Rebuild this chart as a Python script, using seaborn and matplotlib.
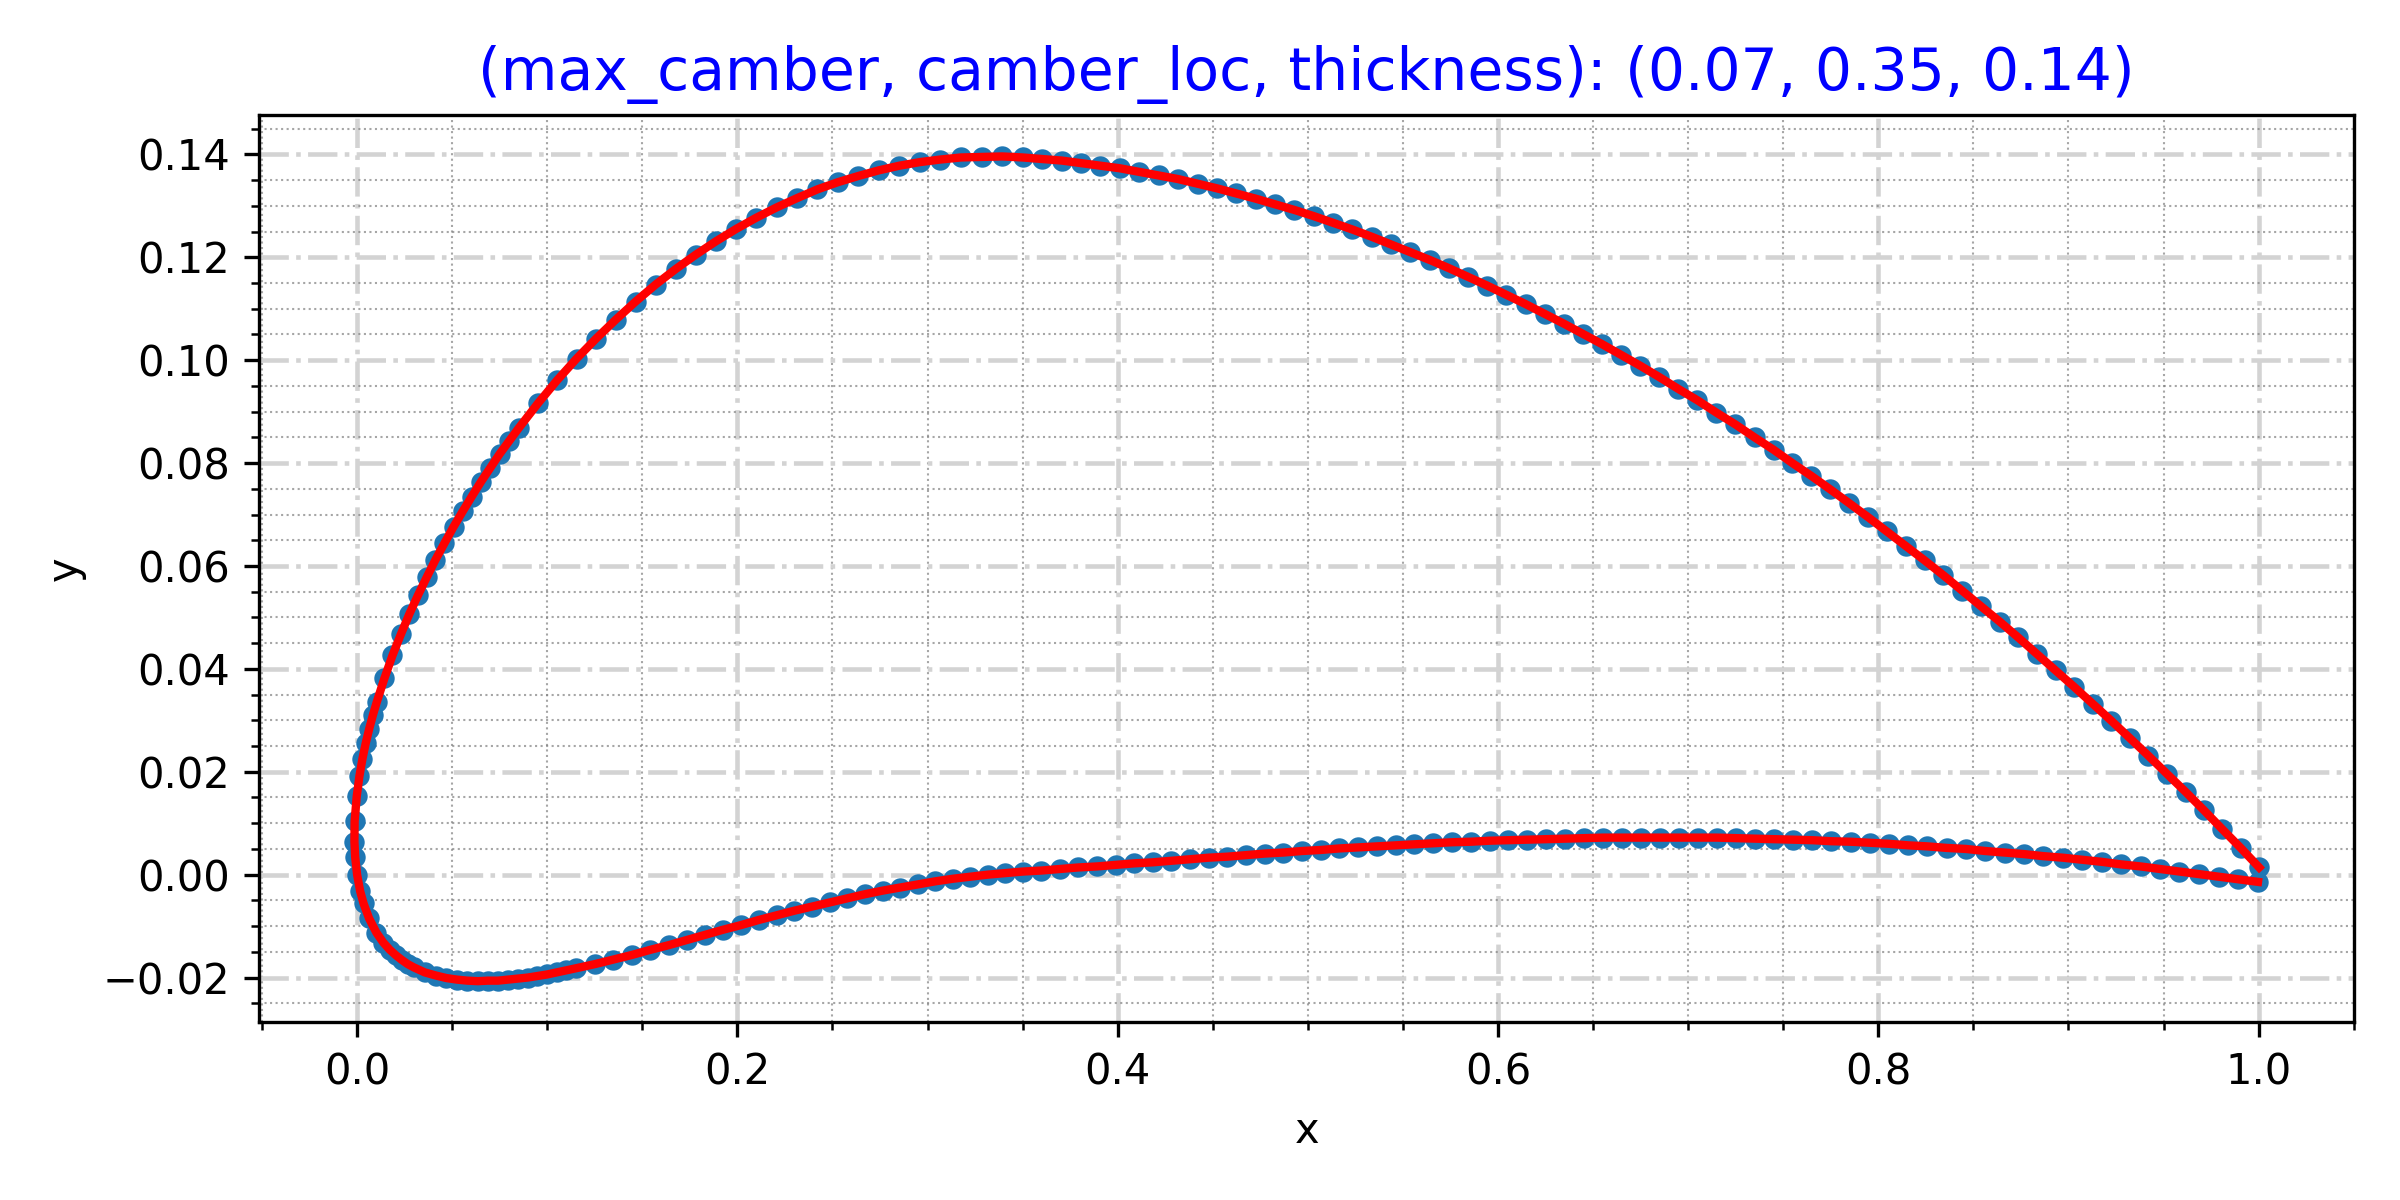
import numpy as np
import pandas as pd
import matplotlib
matplotlib.use("Agg")
import matplotlib.pyplot as plt
import seaborn as sns

# ==================== data ====================
TITLE = "(max_camber, camber_loc, thickness): (0.07, 0.35, 0.14)"

# upper surface, leading edge -> trailing edge
upper_x = [0.0, -0.0010, -0.0014, -0.0013, -0.0002, 0.0012, 0.0028, 0.0045, 0.0064, 0.0083,
           0.0103, 0.0144, 0.0186, 0.0230, 0.0274, 0.0320, 0.0366, 0.0412, 0.0459, 0.0507,
           0.0555, 0.0603, 0.0652, 0.0701, 0.0750, 0.0800, 0.0850, 0.0951, 0.1052, 0.1154,
           0.1257, 0.1361, 0.1465, 0.1570, 0.1675, 0.1781, 0.1887, 0.1993, 0.2100, 0.2207,
           0.2314, 0.2421, 0.2529, 0.2636, 0.2744, 0.2852, 0.2960, 0.3068, 0.3176, 0.3284,
           0.3392, 0.3500, 0.3602, 0.3705, 0.3807, 0.3909, 0.4011, 0.4113, 0.4215, 0.4318,
           0.4420, 0.4522, 0.4623, 0.4725, 0.4827, 0.4929, 0.5031, 0.5132, 0.5234, 0.5335,
           0.5437, 0.5538, 0.5640, 0.5741, 0.5842, 0.5943, 0.6044, 0.6145, 0.6246, 0.6346,
           0.6447, 0.6548, 0.6648, 0.6749, 0.6849, 0.6949, 0.7049, 0.7149, 0.7249, 0.7349,
           0.7449, 0.7548, 0.7648, 0.7747, 0.7847, 0.7946, 0.8045, 0.8144, 0.8243, 0.8342,
           0.8441, 0.8539, 0.8638, 0.8736, 0.8834, 0.8932, 0.9030, 0.9128, 0.9226, 0.9324,
           0.9421, 0.9518, 0.9616, 0.9713, 0.9810, 0.9906, 1.0003]
upper_y = [0.0, 0.0034, 0.0064, 0.0104, 0.0152, 0.0191, 0.0225, 0.0255, 0.0284, 0.0310,
           0.0335, 0.0382, 0.0426, 0.0467, 0.0506, 0.0543, 0.0578, 0.0612, 0.0644, 0.0676,
           0.0706, 0.0735, 0.0764, 0.0791, 0.0818, 0.0843, 0.0868, 0.0916, 0.0961, 0.1003,
           0.1042, 0.1079, 0.1114, 0.1147, 0.1177, 0.1205, 0.1231, 0.1255, 0.1277, 0.1297,
           0.1315, 0.1332, 0.1346, 0.1358, 0.1369, 0.1378, 0.1385, 0.1390, 0.1394, 0.1395,
           0.1396, 0.1394, 0.1391, 0.1388, 0.1383, 0.1378, 0.1373, 0.1366, 0.1359, 0.1352,
           0.1343, 0.1334, 0.1324, 0.1314, 0.1303, 0.1292, 0.1280, 0.1267, 0.1254, 0.1240,
           0.1225, 0.1210, 0.1195, 0.1179, 0.1162, 0.1145, 0.1127, 0.1109, 0.1090, 0.1071,
           0.1051, 0.1031, 0.1010, 0.0989, 0.0967, 0.0944, 0.0922, 0.0898, 0.0875, 0.0850,
           0.0826, 0.0800, 0.0775, 0.0749, 0.0722, 0.0695, 0.0667, 0.0639, 0.0611, 0.0582,
           0.0552, 0.0522, 0.0492, 0.0461, 0.0429, 0.0397, 0.0365, 0.0332, 0.0299, 0.0265,
           0.0231, 0.0196, 0.0161, 0.0125, 0.0088, 0.0052, 0.0014]

# lower surface, leading edge -> trailing edge
lower_x = [0.0, 0.0016, 0.0034, 0.0063, 0.0102, 0.0138, 0.0172, 0.0205, 0.0236, 0.0267,
           0.0297, 0.0356, 0.0414, 0.0470, 0.0526, 0.0580, 0.0635, 0.0688, 0.0741, 0.0793,
           0.0845, 0.0897, 0.0948, 0.0999, 0.1050, 0.1100, 0.1150, 0.1249, 0.1348, 0.1446,
           0.1543, 0.1639, 0.1735, 0.1830, 0.1925, 0.2019, 0.2113, 0.2207, 0.2300, 0.2393,
           0.2486, 0.2579, 0.2671, 0.2764, 0.2856, 0.2948, 0.3040, 0.3132, 0.3224, 0.3316,
           0.3408, 0.3500, 0.3598, 0.3695, 0.3793, 0.3891, 0.3989, 0.4087, 0.4185, 0.4282,
           0.4380, 0.4478, 0.4577, 0.4675, 0.4773, 0.4871, 0.4969, 0.5068, 0.5166, 0.5265,
           0.5363, 0.5462, 0.5560, 0.5659, 0.5758, 0.5857, 0.5956, 0.6055, 0.6154, 0.6254,
           0.6353, 0.6452, 0.6552, 0.6651, 0.6751, 0.6851, 0.6951, 0.7051, 0.7151, 0.7251,
           0.7351, 0.7452, 0.7552, 0.7653, 0.7753, 0.7854, 0.7955, 0.8056, 0.8157, 0.8258,
           0.8359, 0.8461, 0.8562, 0.8664, 0.8766, 0.8868, 0.8970, 0.9072, 0.9174, 0.9276,
           0.9379, 0.9482, 0.9584, 0.9687, 0.9790, 0.9894, 0.9997]
lower_y = [0.0, -0.0032, -0.0056, -0.0085, -0.0113, -0.0132, -0.0146, -0.0157, -0.0166, -0.0174,
           -0.0180, -0.0190, -0.0196, -0.0201, -0.0204, -0.0206, -0.0207, -0.0206, -0.0206, -0.0204,
           -0.0202, -0.0200, -0.0197, -0.0194, -0.0190, -0.0186, -0.0182, -0.0174, -0.0165, -0.0156,
           -0.0146, -0.0137, -0.0127, -0.0117, -0.0107, -0.0098, -0.0088, -0.0079, -0.0070, -0.0062,
           -0.0054, -0.0046, -0.0038, -0.0031, -0.0025, -0.0019, -0.0013, -0.0008, -0.0004, 0.0000,
           0.0003, 0.0006, 0.0008, 0.0011, 0.0014, 0.0016, 0.0019, 0.0022, 0.0024, 0.0027,
           0.0030, 0.0033, 0.0035, 0.0038, 0.0041, 0.0043, 0.0046, 0.0048, 0.0051, 0.0053,
           0.0055, 0.0057, 0.0059, 0.0061, 0.0063, 0.0064, 0.0066, 0.0067, 0.0068, 0.0069,
           0.0070, 0.0071, 0.0072, 0.0072, 0.0072, 0.0072, 0.0072, 0.0072, 0.0072, 0.0071,
           0.0070, 0.0069, 0.0068, 0.0067, 0.0065, 0.0064, 0.0062, 0.0060, 0.0057, 0.0055,
           0.0052, 0.0050, 0.0046, 0.0043, 0.0040, 0.0036, 0.0033, 0.0029, 0.0025, 0.0020,
           0.0016, 0.0011, 0.0006, 0.0001, -0.0004, -0.0009, -0.0014]

# one contour: trailing edge (upper) -> leading edge -> trailing edge (lower)
df = pd.DataFrame({
    "x": upper_x[::-1] + lower_x[1:],
    "y": upper_y[::-1] + lower_y[1:],
})

# ==================== plot ====================
fig, ax = plt.subplots(figsize=(8, 4), dpi=300)

sns.scatterplot(data=df, x="x", y="y", ax=ax, color="#1f77b4", s=24,
                linewidth=0, zorder=2)
sns.lineplot(data=df, x="x", y="y", ax=ax, sort=False, estimator=None,
             color="red", linewidth=2.0, zorder=3)

ax.minorticks_on()
ax.set_axisbelow(True)
ax.grid(which="major", color="lightgray", linestyle="-.", linewidth=1.1)
ax.grid(which="minor", color="gray", linestyle=":", linewidth=0.5, alpha=0.7)

ax.set_title(TITLE, color="blue", fontsize=14)
ax.set_xlabel("x")
ax.set_ylabel("y")

fig.subplots_adjust(left=0.108, right=0.981, top=0.904, bottom=0.148)
fig.savefig("out.png", dpi=300)
